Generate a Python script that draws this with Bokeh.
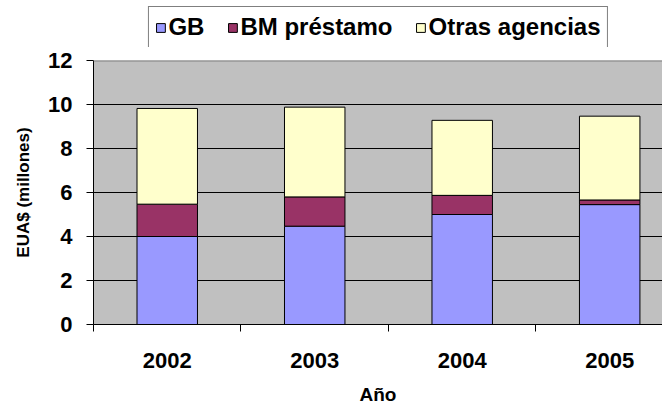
from bokeh.plotting import figure
from bokeh.layouts import column
from bokeh.models import (ColumnDataSource, Range1d, FixedTicker, CustomJSTickFormatter,
                          Legend, LegendItem, Span)
from bokeh.embed import file_html
from bokeh.resources import INLINE

years = ["2002", "2003", "2004", "2005"]
gb = [4.0, 4.47, 5.0, 5.45]
bm = [1.47, 1.33, 0.87, 0.21]
otras = [4.35, 4.08, 3.41, 3.81]
series_names = ["GB", "BM préstamo", "Otras agencias"]
colors = ["#9999FF", "#993366", "#FFFFCC"]
y_ticks = [0, 2, 4, 6, 8, 10, 12]

xpos = [i + 0.5 for i in range(len(years))]
src = ColumnDataSource(dict(x=xpos, GB=gb, BM=bm, OT=otras))

FONT = "Liberation Sans"
W = 662
H_TOP = 47
H_MAIN = 360

# ---- legend strip (separate small figure above the chart) ----
lf = figure(width=W, height=H_TOP, output_backend="svg", toolbar_location=None,
            x_range=Range1d(0, 1), y_range=Range1d(0, 1),
            x_axis_location=None, y_axis_location=None,
            min_border_left=93, min_border_right=0, min_border_top=0, min_border_bottom=0)
lf.grid.visible = False
lf.outline_line_color = None
lf.background_fill_color = "white"
lf.border_fill_color = "white"
# legend-only renderers: one point each, placed outside the visible range
dummy = [lf.vbar(x=[-10], top=[-10], bottom=[-11], width=0.5, fill_color=c,
                 line_color="black", line_width=1)
         for c in colors]
legend = Legend(items=[LegendItem(label=n, renderers=[r]) for n, r in zip(series_names, dummy)],
                orientation="horizontal", location="top_center",
                label_text_font=FONT, label_text_font_style="bold", label_text_font_size="24px",
                label_text_color="black",
                glyph_width=11, glyph_height=11, label_standoff=3, spacing=22,
                padding=6, margin=6, border_line_color="black", border_line_width=1,
                background_fill_color="white", background_fill_alpha=1.0)
lf.add_layout(legend, "center")

# ---- main chart ----
p = figure(width=W, height=H_MAIN, output_backend="svg", toolbar_location=None,
           x_range=Range1d(0, 3.858), y_range=Range1d(0, 12),
           min_border_left=93, min_border_right=0, min_border_top=13, min_border_bottom=77)
p.background_fill_color = "#C0C0C0"
p.border_fill_color = "white"
p.outline_line_color = None

renderers = p.vbar_stack(["GB", "BM", "OT"], x="x", width=0.41, source=src,
                         fill_color=colors, line_color="black", line_width=1)

p.xgrid.visible = False
p.ygrid.ticker = FixedTicker(ticks=y_ticks)
p.ygrid.grid_line_color = "black"
p.ygrid.grid_line_width = 1

p.add_layout(Span(location=12, dimension="width", line_color="#808080", line_width=2))

ya = p.yaxis[0]
ya.ticker = FixedTicker(ticks=y_ticks)
ya.axis_label = "EUA$ (millones)"
ya.axis_label_text_font = FONT
ya.axis_label_text_font_style = "bold"
ya.axis_label_text_font_size = "17px"
ya.axis_label_text_color = "black"
ya.axis_label_standoff = 12
ya.major_label_text_font = FONT
ya.major_label_text_font_style = "bold"
ya.major_label_text_font_size = "22px"
ya.major_label_text_color = "black"
ya.major_label_standoff = 14
ya.major_tick_out = 7
ya.major_tick_in = 0
ya.minor_tick_line_color = None
ya.axis_line_color = "black"
ya.major_tick_line_color = "black"

xa = p.xaxis[0]
xa.ticker = FixedTicker(ticks=xpos, minor_ticks=[0, 1, 2, 3, 4])
xa.formatter = CustomJSTickFormatter(args=dict(labels=years),
                                     code="return labels[Math.floor(tick)];")
xa.axis_label = "Año"
xa.axis_label_text_font = FONT
xa.axis_label_text_font_style = "bold"
xa.axis_label_text_font_size = "19px"
xa.axis_label_text_color = "black"
xa.axis_label_standoff = 13
xa.major_label_text_font = FONT
xa.major_label_text_font_style = "bold"
xa.major_label_text_font_size = "22px"
xa.major_label_text_color = "black"
xa.major_label_standoff = 21
xa.major_tick_out = 0
xa.major_tick_in = 0
xa.major_tick_line_color = None
xa.minor_tick_out = 7
xa.minor_tick_in = 0
xa.minor_tick_line_color = "black"
xa.axis_line_color = "black"

layout = column(lf, p, spacing=0)
open("out.html", "w").write(file_html(layout, INLINE))
